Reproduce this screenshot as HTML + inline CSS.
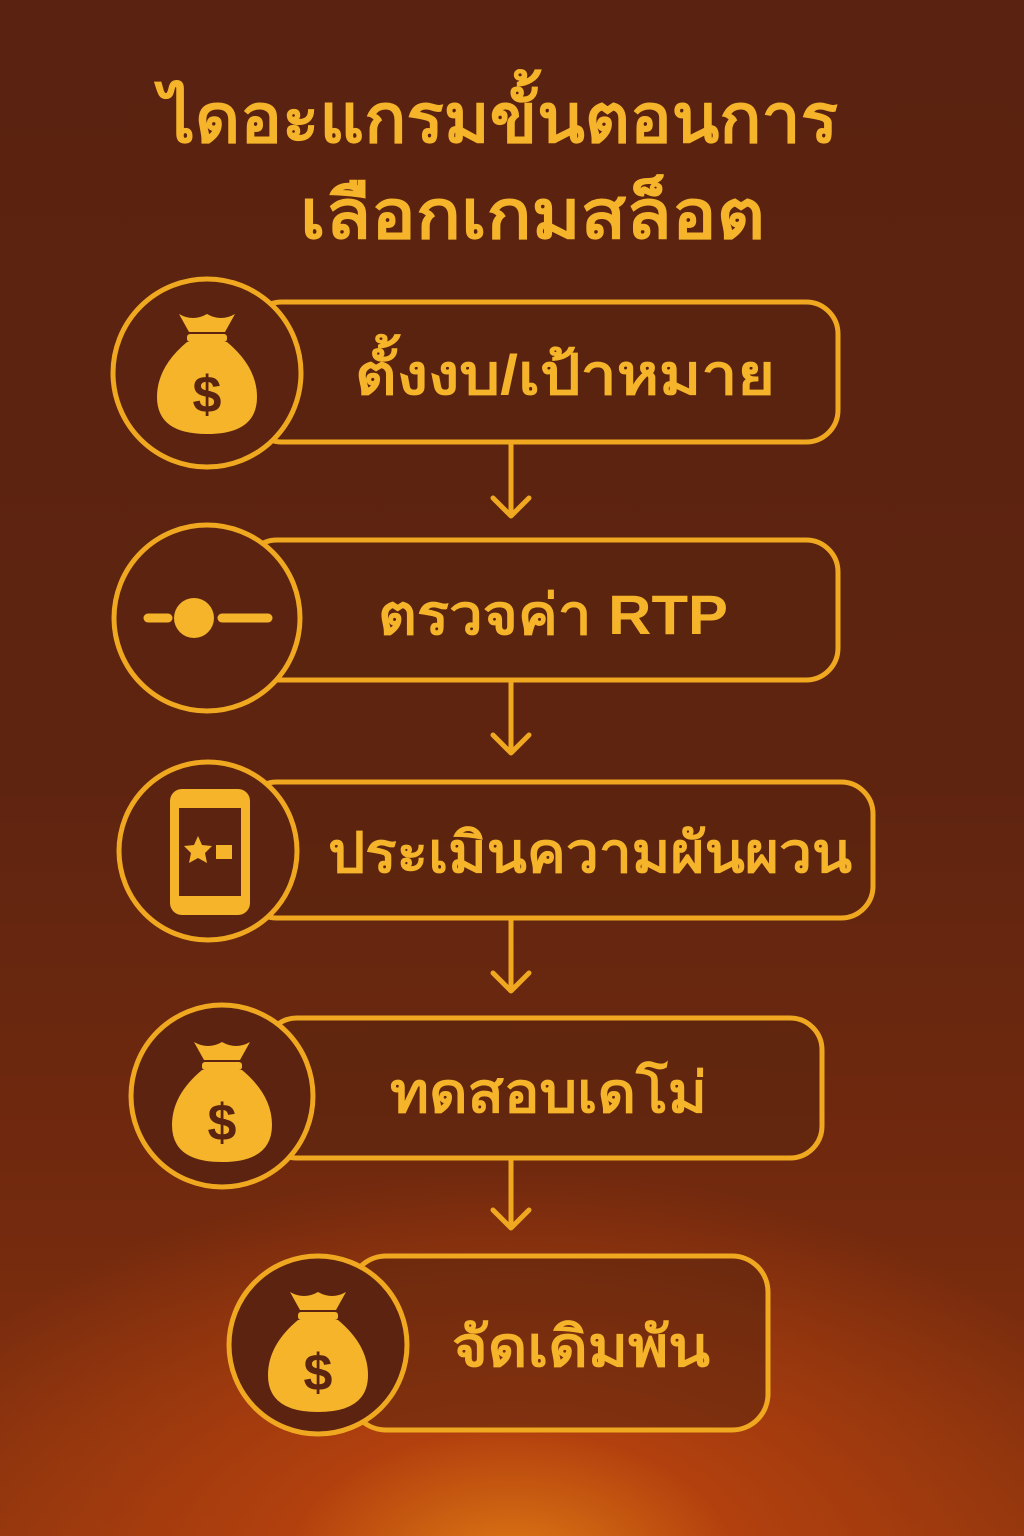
<!DOCTYPE html>
<html><head><meta charset="utf-8"><style>
html,body{margin:0;padding:0;width:1024px;height:1536px;overflow:hidden}
body{background:radial-gradient(ellipse 650px 400px at 512px 1570px,#e07a14 0%,#b2400e 35%,rgba(120,40,14,0) 100%),linear-gradient(180deg,#5a2210 0%,#5e2410 50%,#742a0e 80%,#8a340e 100%);font-family:"Liberation Sans","DejaVu Sans",sans-serif}
svg{position:absolute;left:0;top:0}
text{font-family:"Liberation Sans","DejaVu Sans",sans-serif;font-weight:bold;fill:#f5b42a}
</style></head><body>
<svg width="1024" height="1536" viewBox="0 0 1024 1536">
<defs>
<g id="bag">
<path d="M-28,-58 L-18,-40 L18,-40 L28,-58 Q14,-50 0,-58 Q-14,-50 -28,-58Z" fill="#f5b42a"/>
<rect x="-20" y="-38" width="40" height="8" rx="3" fill="#f5b42a"/>
<path d="M-20,-30 Q-50,-5 -50,25 Q-50,62 0,62 Q50,62 50,25 Q50,-5 20,-30Z" fill="#f5b42a"/>
<text x="0" y="40" text-anchor="middle" font-size="52" style="fill:#5a2410">$</text>
</g>
</defs>
<text x="160" y="142" font-size="68" textLength="678" lengthAdjust="spacingAndGlyphs">ไดอะแกรมขั้นตอนการ</text>
<text x="300" y="238" font-size="68" textLength="465" lengthAdjust="spacingAndGlyphs">เลือกเกมสล็อต</text>
<g fill="rgba(90,36,14,0.55)" stroke="#f0a820" stroke-width="5">
<rect x="250" y="302" width="588" height="140" rx="32"/>
<rect x="245" y="540" width="593" height="140" rx="32"/>
<rect x="245" y="782" width="628" height="136" rx="32"/>
<rect x="265" y="1018" width="557" height="140" rx="32"/>
<rect x="350" y="1256" width="418" height="174" rx="36"/>
</g>
<g fill="#5c2410" stroke="#f0a820" stroke-width="5">
<circle cx="207" cy="373" r="94"/>
<circle cx="207" cy="618" r="93"/>
<circle cx="208" cy="851" r="89"/>
<circle cx="222" cy="1096" r="91"/>
<circle cx="318" cy="1345" r="89"/>
</g>
<g stroke="#f0a820" stroke-width="5" fill="none" stroke-linecap="round" stroke-linejoin="round">
<path d="M511,444 V516 M493,498 L511,516 L529,498"/>
<path d="M511,682 V753 M493,735 L511,753 L529,735"/>
<path d="M511,920 V991 M493,973 L511,991 L529,973"/>
<path d="M511,1160 V1228 M493,1210 L511,1228 L529,1210"/>
</g>
<use href="#bag" x="207" y="372"/>
<use href="#bag" x="222" y="1100"/>
<use href="#bag" x="318" y="1350"/>
<g stroke="#f5b42a" stroke-width="9" stroke-linecap="round">
<line x1="148" y1="618" x2="168" y2="618"/><line x1="222" y1="618" x2="268" y2="618"/>
</g>
<circle cx="194" cy="618" r="20" fill="#f5b42a"/>
<rect x="170" y="789" width="80" height="126" rx="12" fill="#f5b42a"/>
<rect x="179" y="808" width="62" height="88" fill="#5c2410"/>
<path d="M198,836 l4,9 10,1 -7,7 2,10 -9,-5 -9,5 2,-10 -7,-7 10,-1z" fill="#f5b42a"/>
<rect x="216" y="845" width="16" height="14" fill="#f5b42a"/>
<g font-size="56" lengthAdjust="spacingAndGlyphs">
<text x="355" y="394" textLength="420" lengthAdjust="spacingAndGlyphs">ตั้งงบ/เป้าหมาย</text>
<text x="378" y="634" textLength="350" lengthAdjust="spacingAndGlyphs">ตรวจค่า RTP</text>
<text x="328" y="872" textLength="524" lengthAdjust="spacingAndGlyphs">ประเมินความผันผวน</text>
<text x="390" y="1112" textLength="317" lengthAdjust="spacingAndGlyphs">ทดสอบเดโม่</text>
<text x="452" y="1366" textLength="258" lengthAdjust="spacingAndGlyphs">จัดเดิมพัน</text>
</g>
</svg>
</body></html>
